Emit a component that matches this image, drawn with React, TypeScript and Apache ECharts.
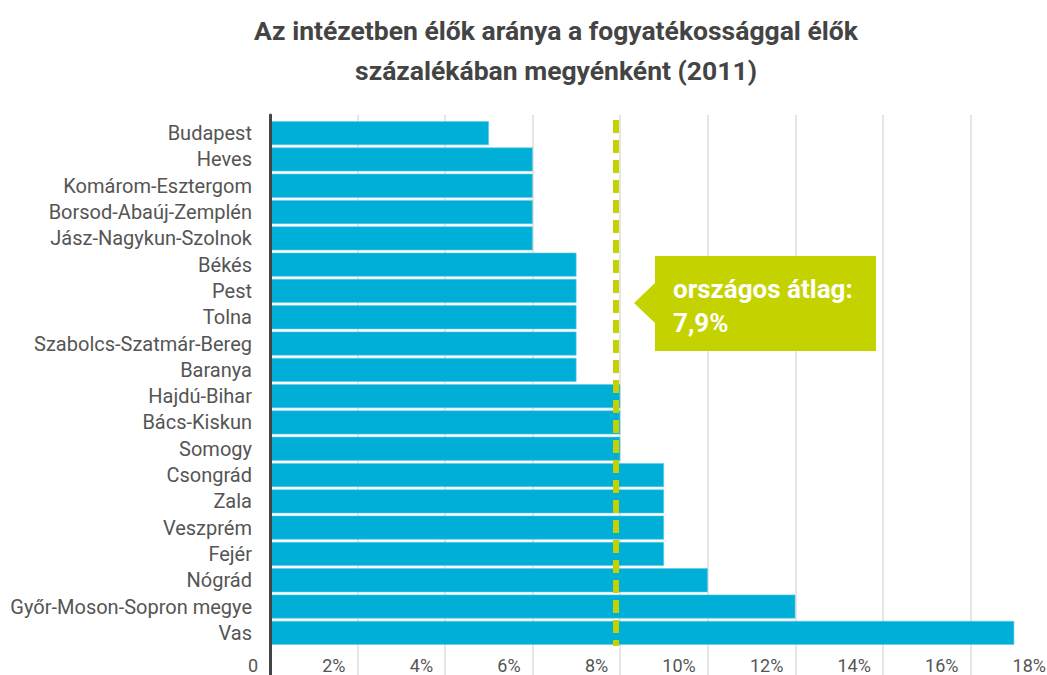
import React, { useEffect, useRef } from "react";
import * as echarts from "echarts";

const categories = [
  "Budapest",
  "Heves",
  "Komárom-Esztergom",
  "Borsod-Abaúj-Zemplén",
  "Jász-Nagykun-Szolnok",
  "Békés",
  "Pest",
  "Tolna",
  "Szabolcs-Szatmár-Bereg",
  "Baranya",
  "Hajdú-Bihar",
  "Bács-Kiskun",
  "Somogy",
  "Csongrád",
  "Zala",
  "Veszprém",
  "Fejér",
  "Nógrád",
  "Győr-Moson-Sopron megye",
  "Vas",
];
const values = [5, 6, 6, 6, 6, 7, 7, 7, 7, 7, 8, 8, 8, 9, 9, 9, 9, 10, 12, 17];
const nationalAverage = 7.9;
const averageLabel = ["országos átlag:", "7,9%"];
const titleText = "Az intézetben élők aránya a fogyatékossággal élők\nszázalékában megyénként (2011)";

const FONT = "Roboto, 'Noto Sans', sans-serif";
const LIME = "#c4d300";

export default function App() {
  const ref = useRef<HTMLDivElement>(null);
  useEffect(() => {
    if (!ref.current) return;
    const chart = echarts.init(ref.current, null, { renderer: "svg" });
    chart.setOption({
      animation: false,
      backgroundColor: "#ffffff",
      textStyle: { fontFamily: FONT },
      title: {
        text: titleText,
        left: 551,
        top: 5,
        textAlign: "center",
        textStyle: {
          fontFamily: FONT,
          fontSize: 26.5,
          fontWeight: "bold",
          color: "#444444",
          lineHeight: 40,
        },
      },
      grid: [
        { left: 270, width: 788, top: 120, bottom: 29, outerBoundsMode: "none", containLabel: false },
        { left: 270, width: 788, top: 115, bottom: 0, outerBoundsMode: "none", containLabel: false },
      ],
      xAxis: [
        {
          gridIndex: 0,
          type: "value",
          min: 0,
          max: 18,
          interval: 2,
          axisLine: { show: false },
          axisTick: { show: false },
          splitLine: { show: false },
          axisLabel: {
            show: true,
            showMaxLabel: true,
            showMinLabel: true,
            hideOverlap: false,
            align: "right",
            padding: [0, 12, 0, 0],
            margin: 10,
            fontFamily: FONT,
            fontSize: 18,
            lineHeight: 18,
            color: "#555555",
            formatter: (v: number) => (v === 0 ? "0" : v + "%"),
          },
        },
        {
          gridIndex: 1,
          type: "value",
          min: 0,
          max: 18,
          interval: 2,
          axisLine: { show: false },
          axisTick: { show: false },
          axisLabel: { show: false },
          splitLine: { show: true, lineStyle: { color: "#dddddd", width: 1.5 } },
        },
      ],
      yAxis: [
        {
          gridIndex: 0,
          type: "category",
          data: categories,
          inverse: true,
          axisLine: { show: false },
          axisTick: { show: false },
          axisLabel: {
            margin: 18,
            fontFamily: FONT,
            fontSize: 20,
            color: "#555555",
          },
        },
        {
          gridIndex: 1,
          type: "value",
          min: 0,
          max: 1,
          z: 10,
          axisLine: { show: true, lineStyle: { color: "#444444", width: 3 } },
          axisTick: { show: false },
          axisLabel: { show: false },
          splitLine: { show: false },
        },
      ],
      series: [
        {
          type: "bar",
          xAxisIndex: 0,
          yAxisIndex: 0,
          data: values,
          barCategoryGap: "9%",
          itemStyle: { color: "#00afd7", borderColor: "#5cc9e6", borderWidth: 0.6 },
          markLine: {
            silent: true,
            symbol: "none",
            label: { show: false },
            lineStyle: { color: LIME, width: 6, type: [13, 7] },
            data: [{ xAxis: nationalAverage }],
          },
        },
        {
          type: "line",
          xAxisIndex: 1,
          yAxisIndex: 1,
          data: [],
        },
      ],
      graphic: [
        {
          type: "polygon",
          shape: {
            points: [
              [634, 303],
              [655, 283],
              [655, 256],
              [876, 256],
              [876, 351],
              [655, 351],
              [655, 323],
            ],
          },
          style: { fill: LIME },
          z: 20,
        },
        {
          type: "text",
          x: 673,
          y: 289,
          z: 21,
          style: {
            text: averageLabel[0],
            fill: "#ffffff",
            font: `bold 26px ${FONT}`,
            verticalAlign: "middle",
          },
        },
        {
          type: "text",
          x: 673,
          y: 323,
          z: 21,
          style: {
            text: averageLabel[1],
            fill: "#ffffff",
            font: `bold 26px ${FONT}`,
            verticalAlign: "middle",
          },
        },
      ],
    });
    return () => chart.dispose();
  }, []);
  return (
    <div
      ref={ref}
      style={{ position: "absolute", left: 0, top: 0, width: 1047, height: 675, overflow: "hidden" }}
    />
  );
}
